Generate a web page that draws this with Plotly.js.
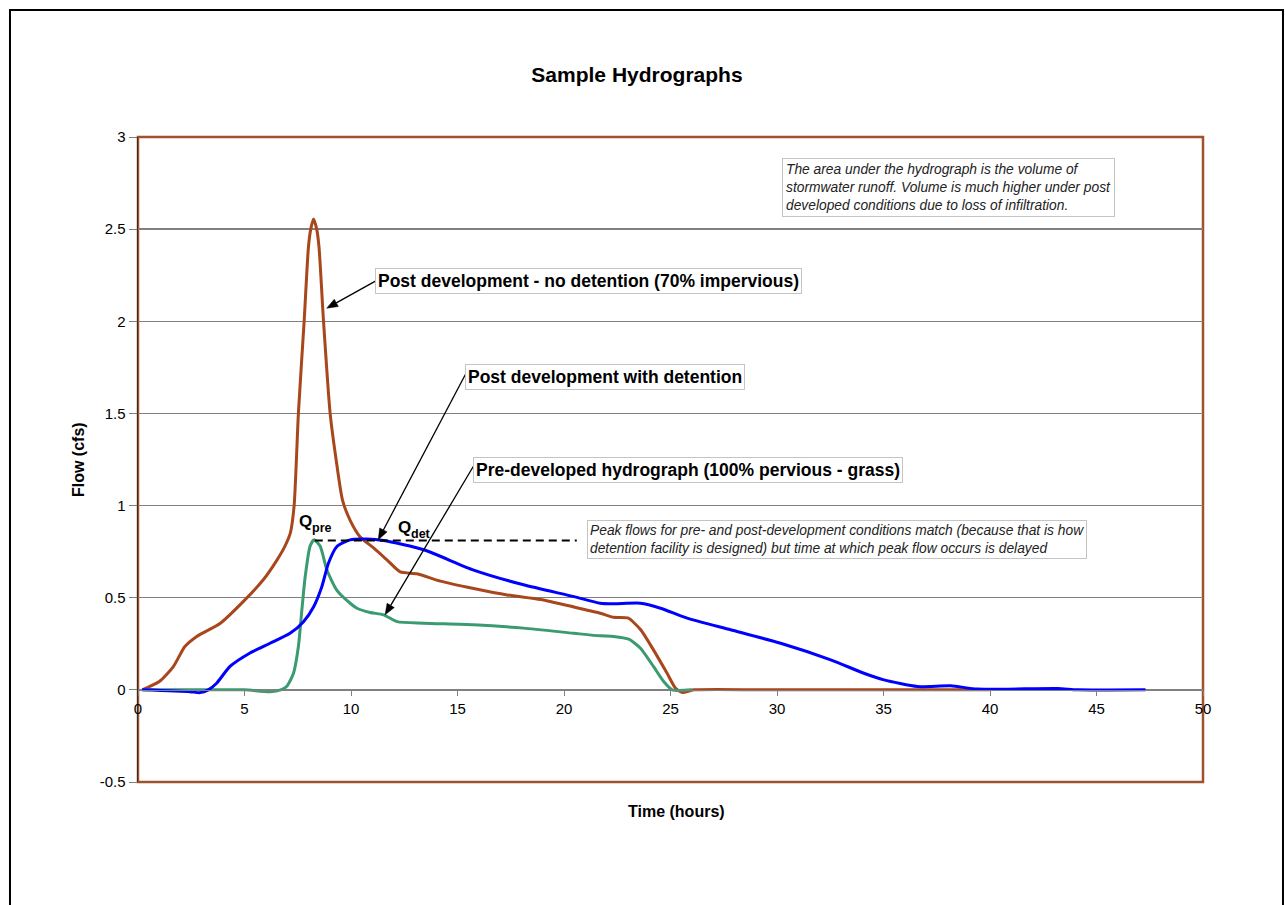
<!DOCTYPE html>
<html>
<head>
<meta charset="utf-8">
<script src="https://cdn.plot.ly/plotly-3.0.1.min.js"></script>
<style>
  html, body { margin: 0; padding: 0; background: #ffffff; }
  #chart { width: 1285px; height: 905px; }
</style>
</head>
<body>
<div id="chart"></div>
<script>
// ---- Data ----
// Post development - no detention (70% impervious)
const postNoDetX = [0.2, 1.0, 1.66, 2.2, 2.76, 3.85, 4.95, 5.9, 6.5, 6.9, 7.15, 7.33, 7.53, 7.8, 8.0, 8.11, 8.24, 8.39, 8.5, 8.71, 9.02, 9.3, 9.6, 9.96, 10.43, 11.06, 11.69, 12.31, 13.1, 14.2, 15.76, 17.33, 18.9, 20.46, 21.7, 22.33, 23.0, 23.6, 24.2, 24.84, 25.23, 25.55, 26.1, 30, 35, 40];
const postNoDetY = [0, 0.045, 0.126, 0.235, 0.29, 0.36, 0.48, 0.6, 0.7, 0.78, 0.85, 1.0, 1.5, 2.0, 2.4, 2.5, 2.555, 2.5, 2.4, 2.0, 1.5, 1.25, 1.03, 0.92, 0.83, 0.77, 0.705, 0.64, 0.63, 0.59, 0.55, 0.515, 0.49, 0.45, 0.416, 0.394, 0.39, 0.326, 0.217, 0.09, 0.01, -0.014, 0, 0, 0, 0];

// Pre-developed hydrograph (100% pervious - grass)
const preDevX = [0.2, 3.2, 5.0, 6.2, 6.7, 6.99, 7.3, 7.53, 7.69, 7.85, 8.08, 8.27, 8.55, 8.87, 9.34, 9.96, 10.28, 10.9, 11.53, 12.16, 13.41, 15.76, 18.1, 20.46, 21.7, 22.33, 23.04, 23.59, 24.2, 24.68, 25.08, 26.0];
const preDevY = [0, 0, 0, -0.01, 0, 0.02, 0.09, 0.235, 0.43, 0.615, 0.78, 0.814, 0.78, 0.65, 0.54, 0.47, 0.443, 0.42, 0.407, 0.37, 0.362, 0.353, 0.335, 0.307, 0.293, 0.29, 0.275, 0.226, 0.127, 0.045, 0, 0];

// Post development with detention
const postDetX = [0.2, 2.44, 2.91, 3.3, 3.69, 4.32, 5.26, 6.2, 7.14, 7.77, 8.24, 8.63, 8.94, 9.34, 9.96, 10.75, 11.53, 13.41, 15.76, 18.1, 20.46, 21.7, 22.33, 23.59, 24.53, 25.78, 27.82, 30.17, 32.52, 34.08, 35.02, 36.59, 38.16, 39.41, 43.17, 44.11, 47.3];
const postDetY = [0, -0.01, -0.015, 0, 0.036, 0.127, 0.2, 0.253, 0.307, 0.37, 0.45, 0.56, 0.687, 0.778, 0.814, 0.818, 0.81, 0.76, 0.65, 0.57, 0.506, 0.47, 0.467, 0.47, 0.443, 0.389, 0.326, 0.253, 0.163, 0.09, 0.054, 0.018, 0.022, 0.004, 0.007, 0, 0];

// Peak-flow reference (dashed) line
const peakLineX = [8.3, 20.6];
const peakLineY = [0.81, 0.81];

// Axis ticks
const xTickVals = [0, 5, 10, 15, 20, 25, 30, 35, 40, 45, 50];
const yTickVals = [-0.5, 0, 0.5, 1, 1.5, 2, 2.5, 3];
const yTickText = ['-0.5', '0', '0.5', '1', '1.5', '2', '2.5', '3'];

// ---- Styles ----
const FONT = 'Liberation Sans, Arial, Helvetica, sans-serif';
const BROWN = '#A8461C';
const GREEN = '#3A9A70';
const BLUE = '#0000FF';
const FRAME = '#A0522D';
const GRID = '#808080';

const X_RANGE = [0, 50];
const Y_RANGE = [-0.5, 3];
const MARGIN = { l: 138, r: 82, t: 137, b: 123 };
const W = 1285, H = 905;

const traces = [
  { x: postNoDetX, y: postNoDetY, type: 'scatter', mode: 'lines', name: 'Post development - no detention',
    line: { color: BROWN, width: 3, shape: 'spline', smoothing: 0.6 }, hoverinfo: 'x+y' },
  { x: preDevX, y: preDevY, type: 'scatter', mode: 'lines', name: 'Pre-developed',
    line: { color: GREEN, width: 3, shape: 'spline', smoothing: 0.6 }, hoverinfo: 'x+y' },
  { x: postDetX, y: postDetY, type: 'scatter', mode: 'lines', name: 'Post development with detention',
    line: { color: BLUE, width: 3, shape: 'spline', smoothing: 0.6 }, hoverinfo: 'x+y' },
  { x: peakLineX, y: peakLineY, type: 'scatter', mode: 'lines', name: 'Peak flow',
    line: { color: '#000000', width: 2, dash: '8px,5px' }, hoverinfo: 'skip' }
];

function box(text, x, y, opts) {
  return Object.assign({
    xref: 'x', yref: 'y', x: x, y: y, text: text, showarrow: false,
    xanchor: 'left', yanchor: 'middle', align: 'left',
    bgcolor: '#ffffff', bordercolor: '#c4c4c4', borderwidth: 1, borderpad: 2,
    font: { family: FONT, size: 17.5, color: '#000000' }
  }, opts || {});
}

// Arrow = line shape + filled triangular head (computed in pixel space, expressed in data units)
const SX = (W - MARGIN.l - MARGIN.r) / (X_RANGE[1] - X_RANGE[0]);
const SY = (H - MARGIN.t - MARGIN.b) / (Y_RANGE[1] - Y_RANGE[0]);
function arrowShapes(hx, hy, tx, ty) {
  const dx = (hx - tx) * SX, dy = (hy - ty) * SY;
  const L = Math.sqrt(dx * dx + dy * dy);
  const ux = dx / L, uy = dy / L;
  const headLen = 11, headHalf = 4.2;
  const bx = hx - ux * headLen / SX, by = hy - uy * headLen / SY;
  const nx = -uy, ny = ux;
  const p1x = bx + nx * headHalf / SX, p1y = by + ny * headHalf / SY;
  const p2x = bx - nx * headHalf / SX, p2y = by - ny * headHalf / SY;
  return [
    { type: 'line', xref: 'x', yref: 'y', x0: tx, y0: ty, x1: bx, y1: by,
      line: { color: '#000000', width: 1.3 }, layer: 'above' },
    { type: 'path', xref: 'x', yref: 'y',
      path: `M ${hx} ${hy} L ${p1x} ${p1y} L ${p2x} ${p2y} Z`,
      fillcolor: '#000000', line: { color: '#000000', width: 0.5 }, layer: 'above' }
  ];
}

// "Q" with subscript, drawn as two plain texts
function qLabel(x, y, sub) {
  return [
    { xref: 'x', yref: 'y', x: x, y: y, text: '<b>Q</b>', showarrow: false, borderpad: 0,
      xanchor: 'right', yanchor: 'middle', font: { family: FONT, size: 17, color: '#000000' } },
    { xref: 'x', yref: 'y', x: x, y: y, text: '<b>' + sub + '</b>', showarrow: false, borderpad: 0,
      xanchor: 'left', yanchor: 'middle', yshift: -7, xshift: -2,
      font: { family: FONT, size: 12.5, color: '#000000' } }
  ];
}

const ITALIC = { family: FONT, size: 13.8, color: '#222222' };

const annotations = [
  box('<b>Post development - no detention (70% impervious)</b>', 11.13, 2.219),
  box('<b>Post development with detention</b>', 15.35, 1.698),
  box('<b>Pre-developed hydrograph (100% pervious - grass)</b>', 15.73, 1.194),
  box('<i>The area under the hydrograph is the volume of<br>stormwater runoff. Volume is much higher under post<br>developed conditions due to loss of infiltration.</i>',
      30.23, 2.887, { yanchor: 'top', font: ITALIC, borderpad: 3 }),
  box('<i>Peak flows for pre- and post-development conditions match (because that is how<br>detention facility is designed) but time at which peak flow occurs is delayed</i>',
      21.08, 0.922, { yanchor: 'top', font: ITALIC }),
  // axis titles
  { xref: 'paper', yref: 'paper', x: -0.0563, y: 0.4992, text: '<b>Flow (cfs)</b>', textangle: -90,
    showarrow: false, xanchor: 'center', yanchor: 'middle', font: { family: FONT, size: 16, color: '#000000' } },
  { xref: 'paper', yref: 'paper', x: 0.5052, y: -0.045, text: '<b>Time (hours)</b>',
    showarrow: false, xanchor: 'center', yanchor: 'middle', font: { family: FONT, size: 16, color: '#000000' } }
].concat(qLabel(8.23, 0.915, 'pre'), qLabel(12.87, 0.882, 'det'));

const shapes = [
  // plot-area frame (brown)
  { type: 'rect', xref: 'paper', yref: 'paper', x0: 0, x1: 1, y0: 0, y1: 1,
    line: { color: FRAME, width: 2.5 }, layer: 'between' },
  // outer chart border
  { type: 'rect', xref: 'paper', yref: 'paper', x0: -0.1202, x1: 1.0751, y0: -0.25, y1: 1.1969,
    line: { color: '#000000', width: 2 }, layer: 'above' }
].concat(
  arrowShapes(8.86, 2.071, 11.25, 2.225),
  arrowShapes(11.28, 0.815, 15.5, 1.74),
  arrowShapes(11.6, 0.407, 15.74, 1.212)
);

const layout = {
  width: W, height: H,
  margin: { l: MARGIN.l, r: MARGIN.r, t: MARGIN.t, b: MARGIN.b, pad: 0 },
  paper_bgcolor: '#ffffff', plot_bgcolor: '#ffffff',
  showlegend: false,
  title: { text: '<b>Sample Hydrographs</b>', x: 0.4957, xref: 'container', xanchor: 'center',
           y: 0.917, yref: 'container', yanchor: 'middle',
           font: { family: FONT, size: 21, color: '#000000' } },
  font: { family: FONT, size: 15, color: '#000000' },
  xaxis: {
    range: X_RANGE, tickmode: 'array', tickvals: xTickVals,
    anchor: 'free', position: (0 - Y_RANGE[0]) / (Y_RANGE[1] - Y_RANGE[0]),
    showgrid: false, zeroline: false,
    showline: true, linecolor: GRID, linewidth: 1.5,
    ticks: 'outside', ticklen: 5, tickcolor: GRID, tickwidth: 1,
    tickfont: { family: FONT, size: 15, color: '#000000' }
  },
  yaxis: {
    range: Y_RANGE, tickmode: 'array', tickvals: yTickVals, ticktext: yTickText,
    showgrid: true, gridcolor: GRID, gridwidth: 1.5, zeroline: false,
    showline: true, linecolor: '#3a2a22', linewidth: 1.5,
    ticks: 'outside', ticklen: 8, tickcolor: GRID, tickwidth: 1,
    tickfont: { family: FONT, size: 15, color: '#000000' }
  },
  annotations: annotations,
  shapes: shapes
};

Plotly.newPlot('chart', traces, layout, { displayModeBar: false, staticPlot: true });
</script>
</body>
</html>
